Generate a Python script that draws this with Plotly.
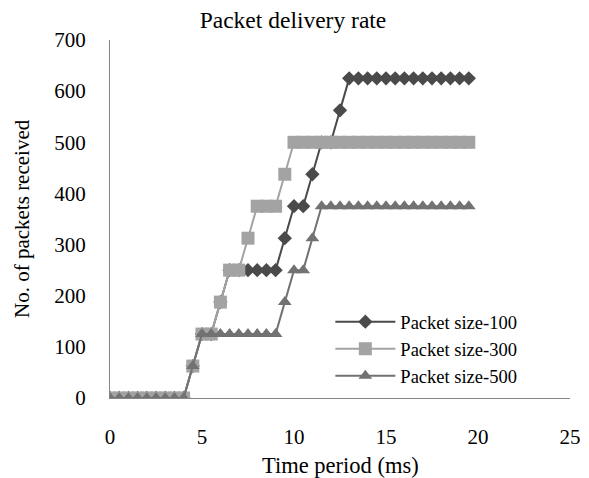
import plotly.graph_objects as go

time_ms = [0, 0.5, 1, 1.5, 2, 2.5, 3, 3.5, 4, 4.5, 5, 5.5, 6, 6.5, 7, 7.5, 8, 8.5, 9, 9.5,
           10, 10.5, 11, 11.5, 12, 12.5, 13, 13.5, 14, 14.5, 15, 15.5, 16, 16.5, 17, 17.5,
           18, 18.5, 19, 19.5]

size_100 = [0, 0, 0, 0, 0, 0, 0, 0, 0, 62.5, 125, 125, 187.5, 250, 250, 250, 250, 250, 250, 312.5,
            375, 375, 437.5, 500, 500, 562.5, 625, 625, 625, 625, 625, 625, 625, 625, 625, 625,
            625, 625, 625, 625]
size_300 = [0, 0, 0, 0, 0, 0, 0, 0, 0, 62.5, 125, 125, 187.5, 250, 250, 312.5, 375, 375, 375, 437.5,
            500, 500, 500, 500, 500, 500, 500, 500, 500, 500, 500, 500, 500, 500, 500, 500,
            500, 500, 500, 500]
size_500 = [0, 0, 0, 0, 0, 0, 0, 0, 0, 62.5, 125, 125, 125, 125, 125, 125, 125, 125, 125, 187.5,
            250, 250, 312.5, 375, 375, 375, 375, 375, 375, 375, 375, 375, 375, 375, 375, 375,
            375, 375, 375, 375]

series_names = ["Packet size-100", "Packet size-300", "Packet size-500"]
x_ticks = [0, 5, 10, 15, 20, 25]
y_ticks = [0, 100, 200, 300, 400, 500, 600, 700]

FONT = "Liberation Serif, Times New Roman, serif"

# the page body adds an 8px margin, so the figure is drawn 8px smaller
W, H = 581, 470

fig = go.Figure()
styles = [
    (size_100, "diamond", 11, "#4a4a4a"),
    (size_300, "square", 13, "#a3a3a3"),
    (size_500, "triangle-up", 12, "#727272"),
]
for name, (vals, sym, msize, col) in zip(series_names, styles):
    fig.add_trace(go.Scatter(
        x=time_ms, y=vals, name=name, mode="lines+markers",
        line=dict(color=col, width=2),
        marker=dict(symbol=sym, size=msize, color=col, line=dict(width=0)),
    ))

fig.update_layout(
    width=W, height=H,
    margin=dict(l=102, r=19, t=32, b=80, autoexpand=False),
    paper_bgcolor="white", plot_bgcolor="white",
    font=dict(family=FONT, color="black", size=21),
    title=dict(text="Packet delivery rate", x=(293 - 8) / W, xanchor="center",
               y=1 - 12 / H, yanchor="middle", yref="container",
               font=dict(family=FONT, size=23.5, color="black")),
    showlegend=True,
    legend=dict(x=0.479, y=0.265, xanchor="left", yanchor="top",
                bgcolor="rgba(0,0,0,0)", font=dict(family=FONT, size=18.5),
                itemwidth=60, tracegroupgap=0),
)
fig.update_xaxes(range=[0, 25], tickvals=x_ticks, showgrid=False, zeroline=False,
                 showline=True, linecolor="#868686", linewidth=1, ticks="",
                 automargin=False,
                 ticklabelstandoff=20, tickfont=dict(family=FONT, size=21))
fig.update_yaxes(range=[0, 700], tickvals=y_ticks, showgrid=False, zeroline=False,
                 showline=True, linecolor="#868686", linewidth=1, ticks="",
                 automargin=False,
                 ticklabelstandoff=19, tickfont=dict(family=FONT, size=21))

fig.add_annotation(text="Time period (ms)", xref="paper", yref="paper",
                   x=0.5, y=(398 - 466) / 358, xanchor="center", yanchor="middle",
                   showarrow=False, font=dict(family=FONT, size=22.5))
fig.add_annotation(text="No. of packets received", xref="paper", yref="paper",
                   x=(22 - 110) / 460, y=0.5, xanchor="center", yanchor="middle",
                   textangle=-90, showarrow=False, font=dict(family=FONT, size=21))

fig.write_html("out.html")
